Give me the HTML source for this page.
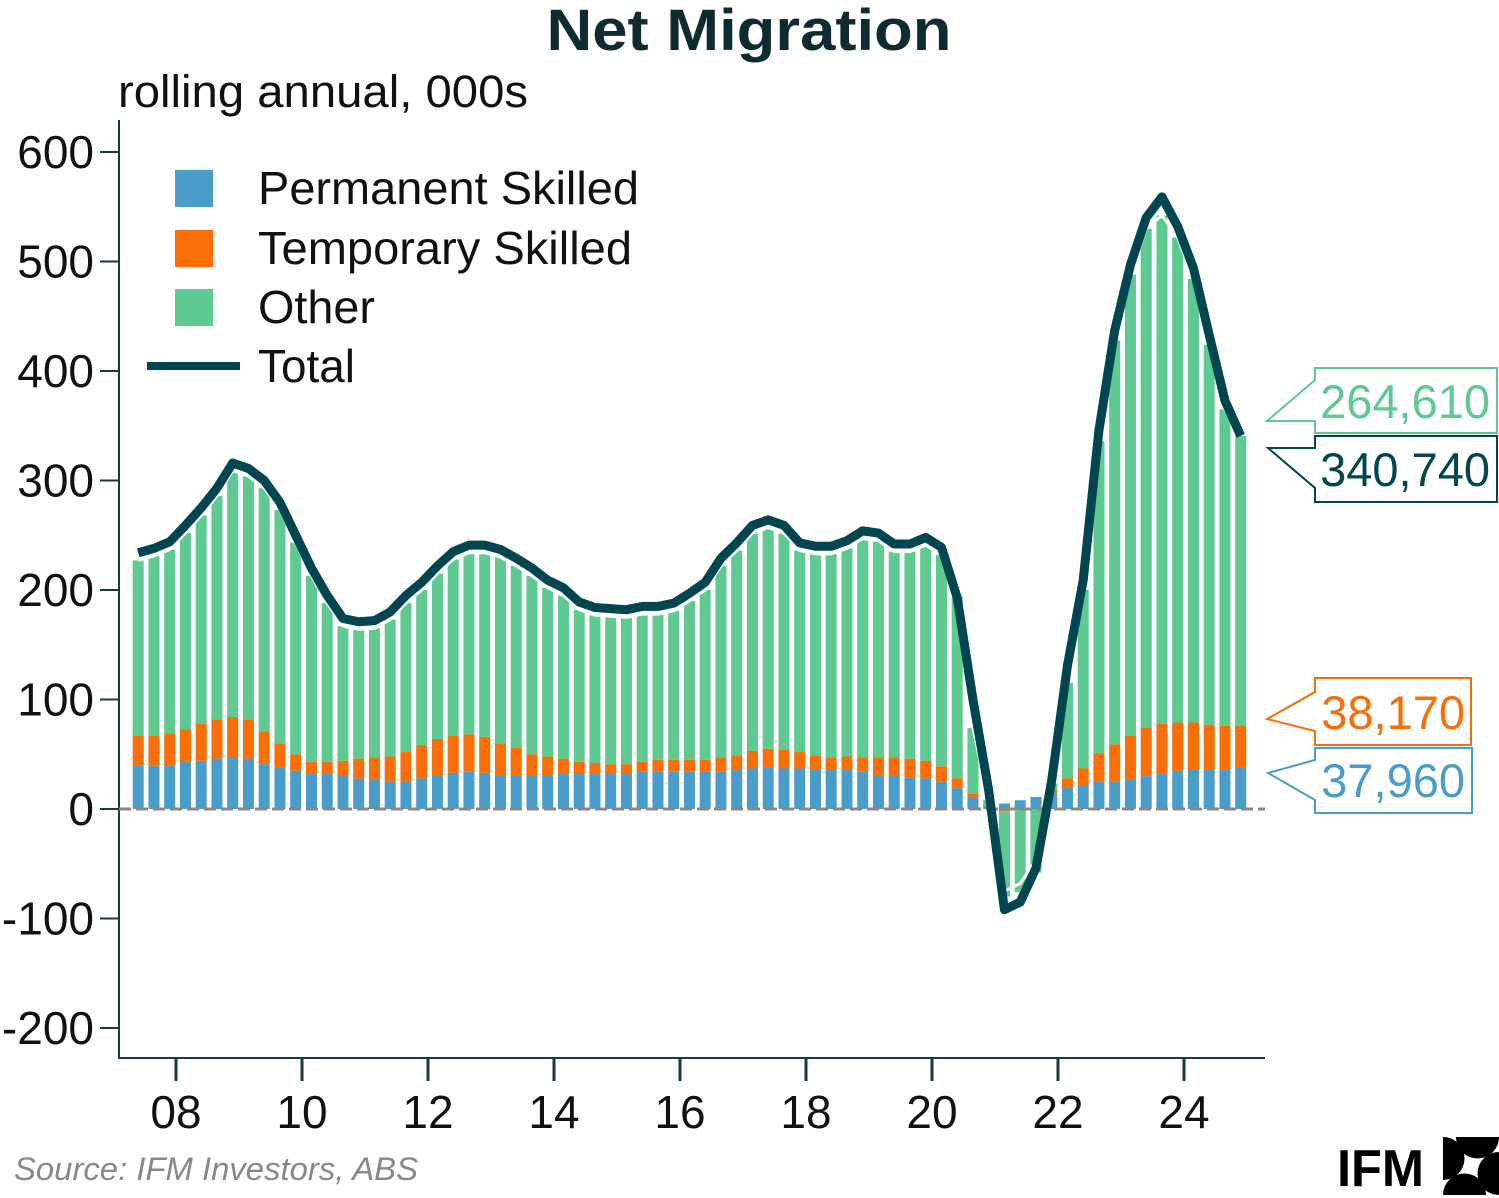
<!DOCTYPE html>
<html><head><meta charset="utf-8"><style>
body{margin:0;background:#fff;}
svg{display:block;font-family:"Liberation Sans",sans-serif;}
</style></head><body>
<svg id="chart" width="1499" height="1198" viewBox="0 0 1499 1198" xmlns="http://www.w3.org/2000/svg">
<text x="749" y="50" text-anchor="middle" font-size="58" font-weight="bold" fill="#0d2b30" textLength="405" lengthAdjust="spacingAndGlyphs">Net Migration</text>
<text x="118" y="107" font-size="45" fill="#111" textLength="410" lengthAdjust="spacingAndGlyphs">rolling annual, 000s</text>
<g id="bars"></g>
<g id="axes"></g>
<g id="lines"></g>
<g>
<rect x="175" y="170" width="38" height="37" fill="#4a9cc9"/>
<text x="258" y="204" font-size="46" fill="#111" textLength="381" lengthAdjust="spacingAndGlyphs">Permanent Skilled</text>
<rect x="175" y="230" width="38" height="37" fill="#f96e06"/>
<text x="258" y="264" font-size="46" fill="#111" textLength="374" lengthAdjust="spacingAndGlyphs">Temporary Skilled</text>
<rect x="175" y="289" width="38" height="37" fill="#5ec991"/>
<text x="258" y="323" font-size="46" fill="#111" textLength="117" lengthAdjust="spacingAndGlyphs">Other</text>
<line x1="147" y1="366" x2="240" y2="366" stroke="#004550" stroke-width="8"/>
<text x="258" y="382" font-size="46" fill="#111" textLength="97" lengthAdjust="spacingAndGlyphs">Total</text>
</g>
<g>
<polygon points="1315,368 1497,368 1497,433 1315,433 1315,421 1267,421 1315,380" fill="#fff" stroke="#5ec991" stroke-width="2"/>
<text x="1490" y="418" text-anchor="end" font-size="47" fill="#5ec991">264,610</text>
<polygon points="1315,436 1497,436 1497,502 1315,502 1315,488 1268,448 1315,448" fill="#fff" stroke="#004550" stroke-width="2"/>
<text x="1490" y="486" text-anchor="end" font-size="47" fill="#004550">340,740</text>
<polygon points="1315,678 1471,678 1471,745 1315,745 1315,731 1267,719 1315,692" fill="#fff" stroke="#f96e06" stroke-width="2"/>
<text x="1465" y="729" text-anchor="end" font-size="47" fill="#f96e06">38,170</text>
<polygon points="1315,748 1472,748 1472,813 1315,813 1315,800 1268,773 1315,760" fill="#fff" stroke="#4a9cc9" stroke-width="2"/>
<text x="1465" y="797" text-anchor="end" font-size="47" fill="#4a9cc9">37,960</text>
</g>
<text x="14" y="1180" font-size="32" font-style="italic" fill="#888" textLength="404" lengthAdjust="spacingAndGlyphs">Source: IFM Investors, ABS</text>
<g>
<text x="1337" y="1186" font-size="52" font-weight="bold" fill="#000" textLength="87" lengthAdjust="spacingAndGlyphs">IFM</text>
<path d="M1443,1180 L1443,1137 A21.5,21.5 0 0 1 1443,1180 Z" fill="#000"/>
<path d="M1456,1137 L1499,1137 A21.5,21.5 0 0 1 1456,1137 Z" fill="#000"/>
<path d="M1499,1152 L1499,1195 A21.5,21.5 0 0 1 1499,1152 Z" fill="#000"/>
<path d="M1486,1195 L1443,1195 A21.5,21.5 0 0 1 1486,1195 Z" fill="#000"/>
</g>
</svg>
<script>
const permanent=[40,40,40,43,44,46,47,46,41,38,35,32,32,31,28,27,25,25,28,31,33,34,33,31,31,31,31,32,32,32,32,32,34,34,34,34,34,34,36,37,38,37,37,36,36,36,34,31,31,29,28,25,19,11,3,5,8,11,15,20,21,25,25,27,30,32,35,36,36,36,37.96];
const temporary=[27,27,29,30,34,36,37,36,30,22,15,11,11,13,18,20,23,27,30,33,34,34,33,29,25,19,17,14,11,10,9,9,9,11,11,11,11,13,13,16,17,17,15,13,11,12,13,16,16,17,16,14,9,3,0,-2,-1,0,3,8,16,26,34,40,44,46,44,43,41,40,38.17];
const other=[160,164,168,179,190,204,225,222,222,213,193,170,145,123,118,118,125,136,142,151,161,166,168,170,166,163,154,149,139,135,135,134,135,133,136,145,155,175,187,199,202,198,184,184,186,190,200,198,188,189,197,193,166,60,5,-78,-75,-58,5,87,163,285,369,421,456,464,443,405,347,289,264.61];
const total=[234,238,244,259,275,293,316,311,300,280,250,220,195,174,171,172,180,195,207,222,235,241,241,237,229,220,209,202,189,184,183,182,185,185,188,197,207,229,243,259,264,259,243,240,240,245,254,252,242,242,248,239,193,100,17,-92,-85,-54,26,131,209,346,437,497,540,559,532,494,433,373,340.74];
const yTicks=[600,500,400,300,200,100,0,-100,-200];
const yTickLabels=["600","500","400","300","200","100","0","-100","-200"];
const xTicks=[2008,2010,2012,2014,2016,2018,2020,2022,2024];
const xTickLabels=["08","10","12","14","16","18","20","22","24"];
const firstPeriod=2007.4, step=0.25;
const NS="http://www.w3.org/2000/svg";
const y=v=>809-v*1.095;
const x=t=>176+(t-2008)*63;
const xi=i=>x(firstPeriod+i*step);
function mk(tag,attrs,parent){const e=document.createElementNS(NS,tag);for(const k in attrs)e.setAttribute(k,attrs[k]);parent.appendChild(e);return e;}
const bars=document.getElementById('bars'),axes=document.getElementById('axes'),lines=document.getElementById('lines');
const bw=11;
function seg(i,a,b,col,name){
  const top=Math.min(y(a),y(b)),h=Math.abs(y(a)-y(b));
  if(h<=0)return;
  const r=mk('rect',{x:xi(i)-bw/2,y:top,width:bw,height:h,fill:col},bars);
  
  
}
for(let i=0;i<permanent.length;i++){
  const p=permanent[i],t=temporary[i],o=other[i];
  let pos=0,neg=0;
  [[p,'#4a9cc9','bar-permanent'],[t,'#f96e06','bar-temporary'],[o,'#5ec991','bar-other']].forEach(([v,c,n])=>{
    if(v>=0){seg(i,pos,pos+v,c,n);pos+=v;}else{seg(i,neg,neg+v,c,n);neg+=v;}
  });
}
const ax=mk('line',{x1:119,y1:120,x2:119,y2:1059,stroke:'#1a3a40','stroke-width':2},axes);


const bx=mk('line',{x1:118,y1:1058,x2:1265,y2:1058,stroke:'#1a3a40','stroke-width':2},axes);


const zl=mk('line',{x1:119,y1:y(0),x2:1265,y2:y(0),stroke:'#888','stroke-width':3,'stroke-dasharray':'12 5'},axes);


yTicks.forEach((v,k)=>{
  const tk=mk('line',{x1:100,y1:y(v),x2:119,y2:y(v),stroke:'#1a3a40','stroke-width':2},axes);
  
  
  const tx=mk('text',{x:94,y:y(v)+16,'text-anchor':'end','font-size':46,fill:'#111'},axes);
  tx.textContent=yTickLabels[k];
  
  
});
xTicks.forEach((v,k)=>{
  const tk=mk('line',{x1:x(v),y1:1058,x2:x(v),y2:1081,stroke:'#1a3a40','stroke-width':3},axes);
  
  
  const tx=mk('text',{x:x(v),y:1128,'text-anchor':'middle','font-size':46,fill:'#111'},axes);
  tx.textContent=xTickLabels[k];
  
  
});
const sums=permanent.map((p,i)=>p+temporary[i]+other[i]);
const wp=mk('polyline',{points:sums.map((s,i)=>xi(i)+','+y(s)).join(' '),fill:'none',stroke:'#fff','stroke-width':3},lines);


const tl=mk('polyline',{points:total.map((s,i)=>xi(i)+','+y(s)).join(' '),fill:'none',stroke:'#004550','stroke-width':9,'stroke-linejoin':'round'},lines);


</script>
</body></html>
